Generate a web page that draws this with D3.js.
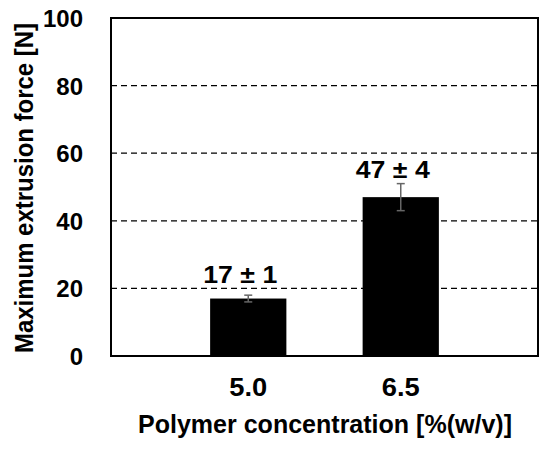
<!DOCTYPE html>
<html>
<head>
<meta charset="utf-8">
<script src="https://cdn.jsdelivr.net/npm/d3@7"></script>
<style>
  body { margin: 0; background: #fff; }
  text { font-family: "Liberation Sans", Arial, sans-serif; font-weight: bold; fill: #000; }
</style>
</head>
<body>
<div id="vis"></div>
<script>
'use strict';

// Chart data
const concentrations = ["5.0", "6.5"];
const meanForce = [17, 47];
const sdForce = [1, 4];
const barLabels = ["17 \u00b1 1", "47 \u00b1 4"];
const labelAt = [21.6, 52.6];
const yTicks = [0, 20, 40, 60, 80, 100];
const gridTicks = [20, 40, 60, 80];

const constraints = {
    margin: {left: 111, right: 12, top: 18, bottom: 95},
    width: 550,
    height: 451
};
const innerW = constraints.width - constraints.margin.left - constraints.margin.right;
const innerH = constraints.height - constraints.margin.top - constraints.margin.bottom;

let svg = d3.select("#vis").append("svg")
    .attr("width", constraints.width)
    .attr("height", constraints.height);

let vis = svg.append("g")
    .attr("transform", "translate(" + constraints.margin.left + "," + constraints.margin.top + ")");

let x = d3.scaleBand()
    .domain(concentrations)
    .range([0, innerW])
    .paddingInner(0.5)
    .paddingOuter(0.65);

let y = d3.scaleLinear()
    .domain([0, 100])
    .range([innerH, 0]);

// dashed grid lines
vis.append("g")
    .selectAll("line")
    .data(gridTicks)
    .enter()
    .append("line")
        .attr("x1", 0)
        .attr("x2", innerW)
        .attr("y1", d => y(d))
        .attr("y2", d => y(d))
        .attr("stroke", "#000")
        .attr("stroke-width", 1.2)
        .attr("stroke-dasharray", "6,4");

// bars
vis.append("g")
    .selectAll("rect")
    .data(concentrations)
    .enter()
    .append("rect")
        .attr("x", d => x(d))
        .attr("y", (d, i) => y(meanForce[i]))
        .attr("width", x.bandwidth())
        .attr("height", (d, i) => y(0) - y(meanForce[i]))
        .attr("fill", "#000");

// error bars
let err = vis.append("g")
    .selectAll("g")
    .data(concentrations)
    .enter()
    .append("g")
        .attr("stroke", "#666")
        .attr("stroke-width", 1.5);
err.append("line")
    .attr("x1", d => x(d) + x.bandwidth() / 2)
    .attr("x2", d => x(d) + x.bandwidth() / 2)
    .attr("y1", (d, i) => y(meanForce[i] - sdForce[i]))
    .attr("y2", (d, i) => y(meanForce[i] + sdForce[i]));
[-1, 1].forEach(s => {
    err.append("line")
        .attr("x1", d => x(d) + x.bandwidth() / 2 - 4)
        .attr("x2", d => x(d) + x.bandwidth() / 2 + 4)
        .attr("y1", (d, i) => y(meanForce[i] + s * sdForce[i]))
        .attr("y2", (d, i) => y(meanForce[i] + s * sdForce[i]));
});

// value labels
vis.append("g")
    .selectAll("text")
    .data(concentrations)
    .enter()
    .append("text")
        .attr("x", d => x(d) + x.bandwidth() / 2 - 8)
        .attr("y", (d, i) => y(labelAt[i]))
        .attr("text-anchor", "middle")
        .attr("textLength", 74)
        .attr("lengthAdjust", "spacingAndGlyphs")
        .style("font-size", "24px")
        .text((d, i) => barLabels[i]);

// frame
vis.append("rect")
    .attr("width", innerW)
    .attr("height", innerH)
    .attr("fill", "none")
    .attr("stroke", "#000")
    .attr("stroke-width", 2);

// y tick labels
vis.append("g")
    .selectAll("text")
    .data(yTicks)
    .enter()
    .append("text")
        .attr("x", -28)
        .attr("y", d => y(d) + 9)
        .attr("text-anchor", "end")
        .style("font-size", "24px")
        .text(d => d);

// x tick labels
vis.append("g")
    .selectAll("text")
    .data(concentrations)
    .enter()
    .append("text")
        .attr("x", d => x(d) + x.bandwidth() / 2)
        .attr("y", innerH + 40)
        .attr("text-anchor", "middle")
        .attr("textLength", 38)
        .attr("lengthAdjust", "spacingAndGlyphs")
        .style("font-size", "25px")
        .text(d => d);

// axis titles
svg.append("text")
    .attr("x", 325)
    .attr("y", 433)
    .attr("text-anchor", "middle")
    .attr("textLength", 374)
    .attr("lengthAdjust", "spacingAndGlyphs")
    .style("font-size", "25px")
    .text("Polymer concentration [%(w/v)]");

svg.append("text")
    .attr("transform", "translate(33,188)rotate(-90)")
    .attr("text-anchor", "middle")
    .attr("textLength", 330)
    .attr("lengthAdjust", "spacingAndGlyphs")
    .style("font-size", "25px")
    .text("Maximum extrusion force [N]");
</script>
</body>
</html>
